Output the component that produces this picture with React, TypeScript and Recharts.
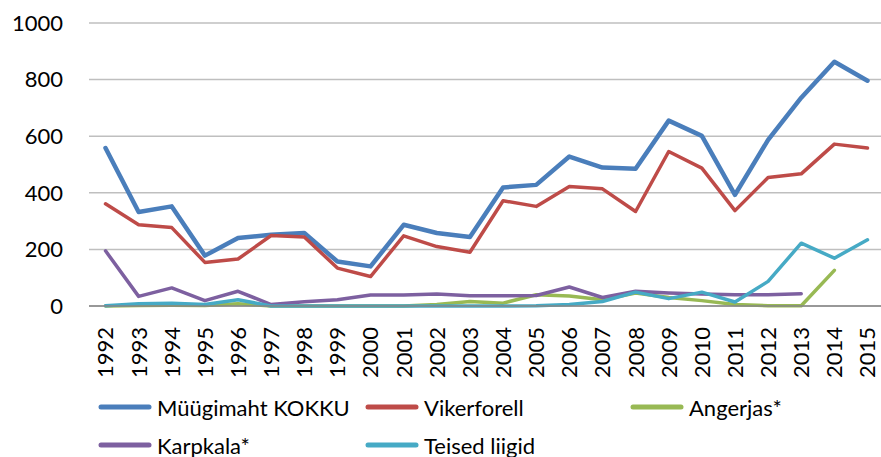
import React from 'react';
import { LineChart, Line, XAxis, YAxis, CartesianGrid, Legend } from 'recharts';

const years = ['1992', '1993', '1994', '1995', '1996', '1997', '1998', '1999', '2000', '2001', '2002', '2003',
    '2004', '2005', '2006', '2007', '2008', '2009', '2010', '2011', '2012', '2013', '2014', '2015'];

const kokku = [558, 332, 352, 178, 240, 252, 258, 157, 140, 287, 258, 244, 419, 428, 528, 489, 485, 655, 601, 393, 587, 736, 863, 796];
const vikerforell = [361, 287, 277, 154, 166, 249, 244, 134, 104, 248, 210, 190, 372, 352, 422, 414, 334, 546, 487, 337, 454, 467, 572, 558];
const angerjas = [0, 2, 3, 2, 8, 0, 0, 0, 0, 0, 5, 16, 10, 40, 35, 22, 46, 30, 19, 5, 1, 1, 126, null];
const karpkala = [195, 34, 64, 19, 52, 5, 15, 22, 39, 39, 42, 36, 36, 37, 67, 30, 52, 46, 42, 40, 40, 43, null, null];
const teised = [1, 8, 10, 5, 22, 0, 0, 0, 0, 0, 0, 0, 0, 1, 5, 16, 49, 26, 49, 14, 87, 222, 169, 234];

const yTicks = [0, 200, 400, 600, 800, 1000];

const series = [
    { key: 'kokku', name: 'Müügimaht KOKKU', color: '#4a7ebb', width: 4.5 },
    { key: 'vikerforell', name: 'Vikerforell', color: '#be4b48', width: 3.5 },
    { key: 'angerjas', name: 'Angerjas*', color: '#98b954', width: 3.5 },
    { key: 'karpkala', name: 'Karpkala*', color: '#7d60a0', width: 3.5 },
    { key: 'teised', name: 'Teised liigid', color: '#46aac5', width: 3.5 },
];

const data = years.map((year, i) => ({
    year,
    kokku: kokku[i],
    vikerforell: vikerforell[i],
    angerjas: angerjas[i],
    karpkala: karpkala[i],
    teised: teised[i],
}));

const FONT = 'Lato, "Open Sans", sans-serif';

const YearTick = (props: any) => {
    const { x, y, payload } = props;
    return (
        <text
            transform={`translate(${x}, ${y + 19}) rotate(-90)`}
            textAnchor="end"
            dy="0.36em"
            fontSize={22}
            fontFamily={FONT}
            fill="#000"
        >
            {payload.value}
        </text>
    );
};

// legend laid out as in the original: 3 columns, 2 rows
const legendCols = [98, 365, 630];
const legendRows = [407, 445];

const renderLegend = () => (
    <div style={{ position: 'relative', width: 881, height: 67, fontFamily: FONT, fontSize: 22, color: '#000' }}>
        {series.map((s, i) => {
            const col = i % 3;
            const row = Math.floor(i / 3);
            return (
                <div
                    key={s.key}
                    style={{
                        position: 'absolute',
                        left: legendCols[col],
                        top: legendRows[row] - 390 - 14,
                        height: 28,
                        display: 'flex',
                        alignItems: 'center',
                        whiteSpace: 'nowrap',
                    }}
                >
                    <svg width={54} height={8} style={{ marginRight: 5 }}>
                        <line x1={3} y1={4} x2={51} y2={4} stroke={s.color} strokeWidth={5} strokeLinecap="round" />
                    </svg>
                    <span>{s.name}</span>
                </div>
            );
        })}
    </div>
);

export default function App() {
    return (
        <div style={{ position: 'absolute', left: 0, top: 0, width: 881, height: 457, background: '#fff' }}>
            <LineChart width={881} height={457} data={data} margin={{ top: 23, right: -3, left: 0, bottom: 0 }}>
                <CartesianGrid vertical={false} stroke="#bfbfbf" strokeWidth={1.5} />
                <XAxis
                    dataKey="year"
                    height={151}
                    interval={0}
                    padding={{ left: 16.5, right: 16.5 }}
                    tick={<YearTick />}
                    tickLine={false}
                    tickSize={0}
                    stroke="#868686"
                    strokeWidth={1.5}
                />
                <YAxis
                    domain={[0, 1000]}
                    ticks={yTicks}
                    width={89}
                    axisLine={false}
                    tickLine={false}
                    tickSize={0}
                    tickMargin={26}
                    tick={{ fontSize: 22, fontFamily: FONT, fill: '#000' }}
                />
                <Legend
                    layout="vertical"
                    align="center"
                    verticalAlign="middle"
                    content={renderLegend}
                    wrapperStyle={{ left: 0, top: 390, width: 881 }}
                />
                {series.map((s) => (
                    <Line
                        key={s.key}
                        type="linear"
                        dataKey={s.key}
                        name={s.name}
                        stroke={s.color}
                        strokeWidth={s.width}
                        strokeLinejoin="round"
                        strokeLinecap="round"
                        dot={false}
                        activeDot={false}
                        isAnimationActive={false}
                    />
                ))}
            </LineChart>
        </div>
    );
}
